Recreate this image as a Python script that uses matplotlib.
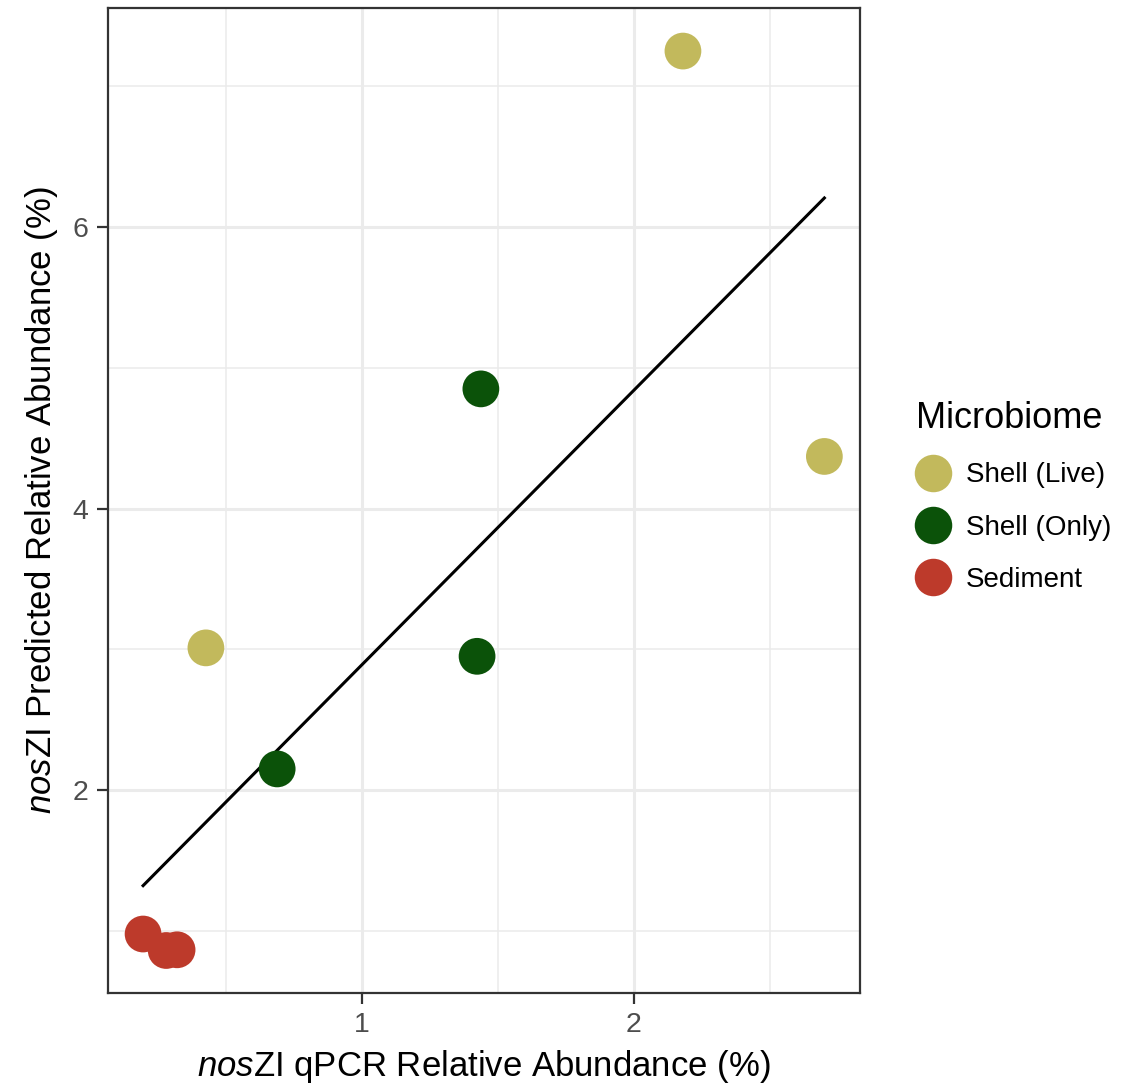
import numpy as np
import matplotlib
matplotlib.use('Agg')
import matplotlib.pyplot as plt
from matplotlib.lines import Line2D
from matplotlib.ticker import MultipleLocator

plt.rcParams['font.family'] = ['Liberation Sans', 'DejaVu Sans']
plt.rcParams['mathtext.fontset'] = 'custom'
plt.rcParams['mathtext.it'] = 'Liberation Sans:italic'
plt.rcParams['mathtext.rm'] = 'Liberation Sans'

# data
groups = ['Shell (Live)', 'Shell (Only)', 'Sediment']
colors = ['#C2B95C', '#0B5209', '#BD3A2B']
live_x = [2.18, 2.70, 0.426]
live_y = [7.25, 4.37, 3.01]
only_x = [1.437, 1.423, 0.688]
only_y = [4.85, 2.95, 2.15]
sed_x = [0.195, 0.28, 0.32]
sed_y = [0.977, 0.86, 0.865]

xs = [live_x, only_x, sed_x]
ys = [live_y, only_y, sed_y]

fig = plt.figure(figsize=(11.46, 10.86), dpi=100)
ax = fig.add_axes([108/1146, 1-993/1086, (860-108)/1146, (993-8)/1086])

# linear fit over all points (like geom_smooth(method='lm'))
all_x = np.concatenate([np.array(v) for v in xs])
all_y = np.concatenate([np.array(v) for v in ys])
k, b = np.polyfit(all_x, all_y, 1)
lx = np.array([all_x.min(), all_x.max()])
ax.plot(lx, k*lx + b, color='black', lw=2.2, zorder=2)

for gx, gy, c in zip(xs, ys, colors):
    ax.scatter(gx, gy, s=700, color=c, edgecolors='none', zorder=3)

ax.set_xlim(0.066, 2.831)
ax.set_ylim(0.558, 7.556)
ax.xaxis.set_major_locator(MultipleLocator(1))
ax.xaxis.set_minor_locator(MultipleLocator(0.5))
ax.yaxis.set_major_locator(MultipleLocator(2))
ax.yaxis.set_minor_locator(MultipleLocator(1))
ax.grid(which='major', color='#EBEBEB', lw=2.2)
ax.grid(which='minor', color='#EBEBEB', lw=1.1)
ax.set_axisbelow(True)
ax.tick_params(which='major', length=8, width=1.6, color='#333333',
               labelsize=20.5, labelcolor='#4D4D4D', pad=6)
ax.tick_params(which='minor', length=0)
for s in ax.spines.values():
    s.set_color('#333333')
    s.set_linewidth(1.6)

ax.set_xlabel(r'$\it{nos}$ZI qPCR Relative Abundance (%)', fontsize=25, labelpad=7)
ax.set_ylabel(r'$\it{nos}$ZI Predicted Relative Abundance (%)', fontsize=25, labelpad=9)

handles = [Line2D([], [], ls='none', marker='o', markersize=27, color=c,
                  markeredgewidth=0) for c in colors]
leg = fig.legend(handles, groups, title='Microbiome', loc='center left',
                 bbox_to_anchor=(916/1146, 1-497/1086), frameon=False,
                 fontsize=20, title_fontsize=26, handlelength=1.2,
                 handletextpad=0.6, labelspacing=0.95, borderaxespad=0,
                 borderpad=0)
leg._legend_box.align = 'left'

fig.savefig('out.png', dpi=100)
